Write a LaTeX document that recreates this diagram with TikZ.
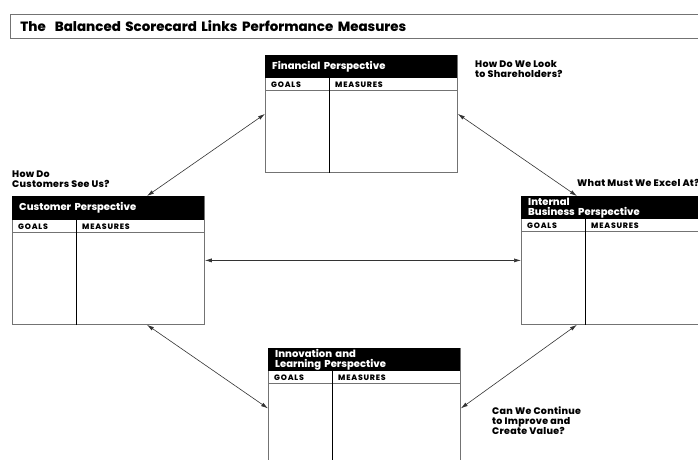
\documentclass[tikz,border=0pt]{standalone}
\usepackage{fontspec}
\setmainfont{Poppins}[BoldFont={Poppins ExtraBold}]
\usetikzlibrary{arrows.meta, calc}

\begin{document}
\begin{tikzpicture}[
  x=1pt, y=-1pt,
  frame/.style={draw=black!55, line width=0.8pt},
  pbox/.style={frame, rectangle, anchor=north west, inner sep=0pt, minimum width=192pt, minimum height=128pt},
  head/.style={rectangle, fill=black, text=white, anchor=north west, inner sep=0pt, minimum width=192pt, minimum height=23pt, text width=178pt, align=left, font=\bfseries\fontsize{10}{10}\selectfont},
  col/.style={anchor=west, inner sep=0pt, font=\bfseries\fontsize{7.8}{8}\selectfont\addfontfeature{LetterSpace=10}},
  ask/.style={anchor=north west, inner sep=0pt, align=left, font=\bfseries\fontsize{9.5}{10}\selectfont\addfontfeature{LetterSpace=3}},
  arr/.style={{Latex[length=7pt,width=4pt]}-{Latex[length=7pt,width=4pt]}, line width=0.6pt, black!80}
]
\useasboundingbox (0,0) rectangle (698,459);
\clip (0,0) rectangle (698,459);

\node[frame, rectangle, anchor=north west, inner sep=0pt, inner xsep=6pt, minimum width=720pt, minimum height=24pt, text width=700pt, align=left, font=\bfseries\fontsize{13.4}{15}\selectfont] (title) at (10,14) {The\ \ Balanced Scorecard Links Performance Measures};

% the four perspectives
\node[pbox, minimum height=117pt] (fin) at (265,55) {};
\node[head] (finhead) at (fin.north west) {Financial Perspective};
\node[pbox] (cust) at (12,196) {};
\node[head, minimum height=24pt] (custhead) at (cust.north west) {Customer Perspective};
\node[pbox] (int) at (521,196) {};
\node[head] (inthead) at (int.north west) {Internal\\Business Perspective};
\node[pbox] (inno) at (268,348) {};
\node[head] (innohead) at (inno.north west) {Innovation and\\Learning Perspective};

\foreach \b in {fin,cust,int,inno} {
  \draw[frame] ([yshift=-12pt]\b head.south west) -- ([yshift=-12pt]\b head.south east);
  \draw[black, line width=0.8pt] ([xshift=64pt]\b head.south west) -- ([xshift=64pt]\b.south west);
  \node[col] (\b goals) at ([xshift=6pt, yshift=-6pt]\b head.south west) {GOALS};
  \node[col] (\b meas) at ([xshift=70pt, yshift=-6pt]\b head.south west) {MEASURES};
}

% questions
\node[ask] (finq) at (475,60) {How Do We Look\\to Shareholders?};
\node[ask] (custq) at (12,171) {How Do\\Customers See Us?};
\node[ask] (intq) at (577,179) {What Must We Excel At?};
\node[ask] (innoq) at (492,407) {Can We Continue\\to Improve and\\Create Value?};

% links
\draw[arr] (fin.west) -- ($(cust.north west)!0.70!(cust.north east)$);
\draw[arr] (fin.east) -- ($(int.north west)!0.29!(int.north east)$);
\draw[arr] (cust.east) -- (int.west);
\draw[arr] ($(cust.south west)!0.70!(cust.south east)$) -- ([yshift=4pt]inno.west);
\draw[arr] ($(int.south west)!0.29!(int.south east)$) -- ([yshift=4pt]inno.east);
\end{tikzpicture}
\end{document}
